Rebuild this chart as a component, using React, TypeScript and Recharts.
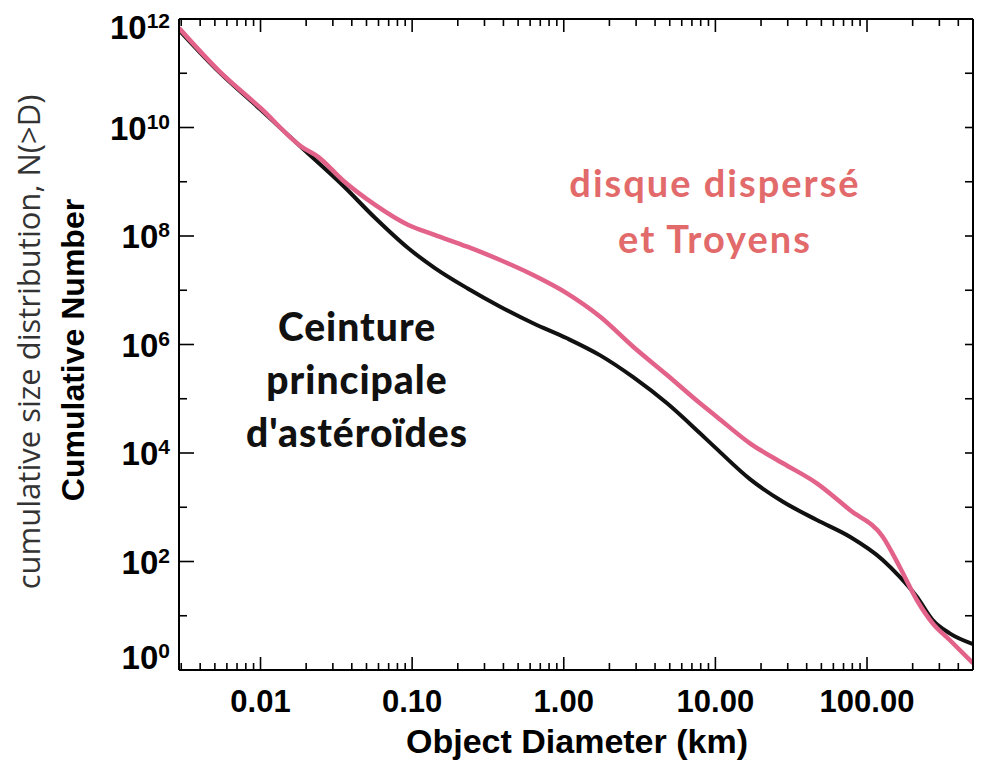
import React from 'react';
import { LineChart, Line, XAxis, YAxis } from 'recharts';

// Main asteroid belt (black)
const beltDiameterKm = [0.0029, 0.0053, 0.01, 0.0189, 0.0347, 0.0573, 0.0944, 0.142, 0.231, 0.381, 0.628, 1.05, 1.74, 2.87, 4.8, 7.92, 10.2, 16.9, 27.9, 46.7, 77.1, 127, 164, 213, 271, 351, 500];
const beltCount = [6.27e11, 1.07e11, 2.14e10, 4.14e9, 8.71e8, 2.12e8, 5.93e7, 2.54e7, 1.09e7, 4.98e6, 2.46e6, 1.3e6, 6.3e5, 2.5e5, 8.24e4, 2.31e4, 1.19e4, 3300, 1260, 582, 286, 107, 52.5, 22.4, 8.36, 4.74, 3.01];

// Scattered disk and Trojans (pink)
const scatterDiameterKm = [0.0029, 0.0053, 0.01, 0.0189, 0.0241, 0.0347, 0.0573, 0.0944, 0.142, 0.231, 0.381, 0.628, 1.05, 1.74, 2.87, 4.8, 7.92, 10.2, 16.9, 27.9, 46.7, 77.1, 127, 164, 213, 271, 351, 500];
const scatterCount = [6.82e11, 1.12e11, 2.29e10, 4.3e9, 2.85e9, 1.08e9, 3.72e8, 1.6e8, 1.04e8, 6.35e7, 3.61e7, 1.91e7, 8.79e6, 3.25e6, 9.1e5, 2.74e5, 8.24e4, 4.67e4, 1.51e4, 6460, 2760, 889, 286, 80.2, 19.5, 7.26, 3.57, 1.33];

const xDomain = [0.0029, 500];
const xMajorTicks = [0.01, 0.1, 1, 10, 100];
const xMajorLabels = ['0.01', '0.10', '1.00', '10.00', '100.00'];
const xMinorTicks = [
  0.003, 0.004, 0.005, 0.006, 0.007, 0.008, 0.009,
  0.02, 0.03, 0.04, 0.05, 0.06, 0.07, 0.08, 0.09,
  0.2, 0.3, 0.4, 0.5, 0.6, 0.7, 0.8, 0.9,
  2, 3, 4, 5, 6, 7, 8, 9,
  20, 30, 40, 50, 60, 70, 80, 90,
  200, 300, 400,
];
const yDomain = [1, 1e12];
const yTicks = [1, 1e1, 1e2, 1e3, 1e4, 1e5, 1e6, 1e7, 1e8, 1e9, 1e10, 1e11, 1e12];
const yLabelledExponents = [0, 2, 4, 6, 8, 10, 12];

const yAxisTitle = 'Cumulative Number';
const yAxisSubtitle = 'cumulative size distribution, N(>D)';
const xAxisTitle = 'Object Diameter (km)';
const beltLabel = ['Ceinture', 'principale', "d'astéroïdes"];
const scatterLabel = ['disque dispersé', 'et Troyens'];

const beltData = beltDiameterKm.map((d, i) => ({ d, n: beltCount[i] }));
const scatterData = scatterDiameterKm.map((d, i) => ({ d, n: scatterCount[i] }));
const xTicks = [...xMajorTicks, ...xMinorTicks].sort((a, b) => a - b);

const TICK_FONT = "'Liberation Sans', Arial, Helvetica, sans-serif";
const majorIndex = (v: number) => xMajorTicks.findIndex((m) => Math.abs(m - v) / m < 1e-6);

const BottomTick = (props: any) => {
  const { x, y, payload } = props;
  const idx = majorIndex(payload.value);
  const major = idx >= 0;
  return (
    <g>
      <line x1={x} x2={x} y1={y} y2={y - (major ? 13 : 7)} stroke="#000" strokeWidth={1.6} />
      {major && (
        <text x={x} y={y + 42} textAnchor="middle" fontFamily={TICK_FONT} fontWeight="bold" fontSize={31} fill="#000">
          {xMajorLabels[idx]}
        </text>
      )}
    </g>
  );
};

const TopTick = (props: any) => {
  const { x, y, payload } = props;
  const major = majorIndex(payload.value) >= 0;
  return <line x1={x} x2={x} y1={y} y2={y + (major ? 13 : 7)} stroke="#000" strokeWidth={1.6} />;
};

const LeftTick = (props: any) => {
  const { x, y, payload } = props;
  const exp = Math.round(Math.log10(payload.value));
  const labelled = yLabelledExponents.includes(exp);
  const cy = Math.min(Math.max(y, 27), 657);
  return (
    <g>
      <line x1={x} x2={x + (labelled ? 15 : 8)} y1={y} y2={y} stroke="#000" strokeWidth={1.6} />
      {labelled && (
        <text x={x - 9} y={cy + 12} textAnchor="end" fontFamily={TICK_FONT} fontWeight="bold" fontSize={33} fill="#000">
          10
          <tspan fontSize={21} dy={-11}>{String(exp)}</tspan>
        </text>
      )}
    </g>
  );
};

const RightTick = (props: any) => {
  const { x, y } = props;
  return <line x1={x} x2={x - 8} y1={y} y2={y} stroke="#000" strokeWidth={1.6} />;
};

export default function App() {
  const axisLine = { stroke: '#000', strokeWidth: 2 };
  return (
    <div style={{ position: 'absolute', left: 0, top: 0, width: 983, height: 761, background: '#fff' }}>
      <LineChart width={983} height={761} margin={{ top: 18, right: 9, bottom: 31, left: 79 }}>
        <XAxis
          xAxisId="bottom"
          orientation="bottom"
          dataKey="d"
          type="number"
          scale="log"
          domain={xDomain}
          allowDataOverflow
          ticks={xTicks}
          interval={0}
          height={60}
          tickSize={0}
          tickMargin={0}
          tickLine={false}
          axisLine={axisLine}
          tick={BottomTick}
        />
        <XAxis
          xAxisId="top"
          orientation="top"
          dataKey="d"
          type="number"
          scale="log"
          domain={xDomain}
          allowDataOverflow
          ticks={xTicks}
          interval={0}
          height={1}
          tickSize={0}
          tickMargin={0}
          tickLine={false}
          axisLine={axisLine}
          tick={TopTick}
        />
        <YAxis
          yAxisId="left"
          orientation="left"
          type="number"
          scale="log"
          domain={yDomain}
          allowDataOverflow
          ticks={yTicks}
          interval={0}
          width={100}
          tickSize={0}
          tickMargin={0}
          tickLine={false}
          axisLine={axisLine}
          tick={LeftTick}
        />
        <YAxis
          yAxisId="right"
          orientation="right"
          type="number"
          scale="log"
          domain={yDomain}
          allowDataOverflow
          ticks={yTicks}
          interval={0}
          width={1}
          tickSize={0}
          tickMargin={0}
          tickLine={false}
          axisLine={axisLine}
          tick={RightTick}
        />
        <Line
          xAxisId="bottom"
          yAxisId="left"
          data={beltData}
          dataKey="n"
          type="monotone"
          stroke="#111111"
          strokeWidth={4}
          dot={false}
          isAnimationActive={false}
        />
        <Line
          xAxisId="bottom"
          yAxisId="left"
          data={scatterData}
          dataKey="n"
          type="monotone"
          stroke="#e2628a"
          strokeWidth={4.5}
          dot={false}
          isAnimationActive={false}
        />
      </LineChart>
      <svg width={983} height={761} style={{ position: 'absolute', left: 0, top: 0, pointerEvents: 'none' }}>
        <text
          transform="translate(40, 342) rotate(-90)"
          textAnchor="middle"
          fontFamily="'Open Sans', sans-serif"
          fontWeight={400}
          fontSize={31}
          fill="#333333"
        >
          {yAxisSubtitle}
        </text>
        <text
          transform="translate(84, 350) rotate(-90)"
          textAnchor="middle"
          fontFamily={TICK_FONT}
          fontWeight="bold"
          fontSize={32}
          fill="#000"
        >
          {yAxisTitle}
        </text>
        <text x={577} y={753} textAnchor="middle" fontFamily={TICK_FONT} fontWeight="bold" fontSize={34} fill="#000">
          {xAxisTitle}
        </text>
        {beltLabel.map((line, i) => (
          <text
            key={line}
            x={357}
            y={341 + i * 53}
            textAnchor="middle"
            fontFamily="Lato, sans-serif"
            fontWeight={900}
            fontSize={39}
            letterSpacing={1}
            fill="#111"
          >
            {line}
          </text>
        ))}
        {scatterLabel.map((line, i) => (
          <text
            key={line}
            x={715}
            y={197 + i * 56}
            textAnchor="middle"
            fontFamily="Lato, sans-serif"
            fontWeight="bold"
            fontSize={38}
            letterSpacing={2}
            fill="#e26a6a"
          >
            {line}
          </text>
        ))}
      </svg>
    </div>
  );
}
